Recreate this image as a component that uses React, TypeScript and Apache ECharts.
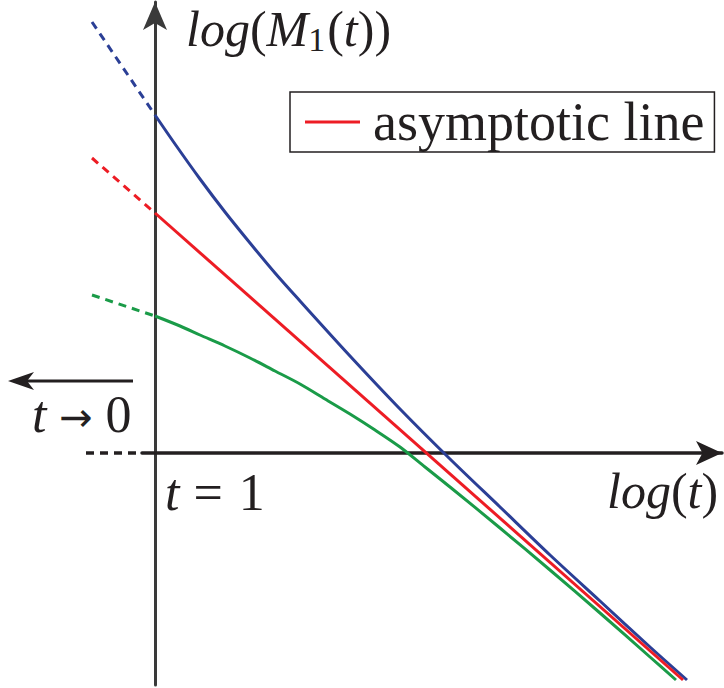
import React, { useEffect, useRef } from "react";
import * as echarts from "echarts";

// x = log(t), y = log(M1(t)) in schematic units (axes cross at t = 1)
const blueX = [0, 0.2, 0.45, 0.7, 0.95, 1.2, 1.45, 1.95, 2.45, 2.95, 3.45, 3.95, 4.45, 4.95, 5.32];
const blueY = [3.38, 3.09, 2.74, 2.41, 2.10, 1.80, 1.52, 0.97, 0.44, -0.06, -0.54, -1.02, -1.48, -1.94, -2.27];
const redX = [0, 5.28];
const redY = [2.40, -2.27];
const greenX = [0, 0.25, 0.45, 0.7, 0.95, 1.2, 1.45, 1.7, 1.95, 2.2, 2.45, 2.7, 2.95, 3.45, 3.95, 4.45, 4.95, 5.21];
const greenY = [1.37, 1.27, 1.18, 1.07, 0.95, 0.82, 0.69, 0.54, 0.39, 0.23, 0.06, -0.14, -0.34, -0.75, -1.17, -1.60, -2.04, -2.27];
// dashed extensions towards t -> 0
const extX = [-0.63, 0];
const blueExtY = [4.31, 3.38];
const redExtY = [2.95, 2.40];
const greenExtY = [1.58, 1.37];
const axisExtX = [-0.69, -0.13];
const axisExtY = [0, 0];

const legendName = "asymptotic line";

const zip = (xs: number[], ys: number[]) => xs.map((x, i) => [x, ys[i]]);

const BLUE = "#2b3f96";
const RED = "#ed1c24";
const GREEN = "#1a9b48";
const INK = "#231f20";
const SERIF = "'Liberation Serif', 'Times New Roman', serif";

const hidden = {
  axisLine: { show: false },
  axisTick: { show: false },
  axisLabel: { show: false },
  splitLine: { show: false },
};

export default function App() {
  const ref = useRef<HTMLDivElement>(null);
  useEffect(() => {
    if (!ref.current) return;
    const chart = echarts.init(ref.current, undefined, { renderer: "svg" });
    const it = { fontFamily: SERIF, fontStyle: "italic", fontSize: 52, lineHeight: 40, fill: INK };
    const up = { fontFamily: SERIF, fontStyle: "normal", fontSize: 52, lineHeight: 40, fill: INK };
    const tIt = { ...it, fontSize: 50, lineHeight: 50 };
    const tUp = { ...up, fontSize: 50, lineHeight: 50 };
    const lineSeries = (name: string, xs: number[], ys: number[], color: string, dashed: boolean, smooth = 0, width = 3) => ({
      name,
      type: "line",
      xAxisIndex: 1,
      yAxisIndex: 1,
      data: zip(xs, ys),
      smooth,
      symbol: "none",
      clip: false,
      color,
      lineStyle: { color, width, type: dashed ? [8, 6] : "solid" },
      z: 3,
    });
    chart.setOption({
      animation: false,
      backgroundColor: "#ffffff",
      grid: [
        { left: 142, right: 2, top: 2, bottom: 3 },
        { left: 86, right: 2, top: 2, bottom: 3 },
      ],
      xAxis: [
        {
          type: "value",
          gridIndex: 0,
          min: -0.13,
          max: 5.67,
          axisLine: {
            onZero: true,
            lineStyle: { color: INK, width: 3.5 },
            symbol: ["none", "arrow"],
            symbolSize: [18, 26],
          },
          axisTick: { show: false },
          axisLabel: { show: false },
          splitLine: { show: false },
        },
        { type: "value", gridIndex: 1, min: -0.69, max: 5.67, ...hidden },
      ],
      yAxis: [
        {
          type: "value",
          gridIndex: 0,
          min: -2.32,
          max: 4.51,
          axisLine: {
            onZero: true,
            lineStyle: { color: "#3a3a3a", width: 3 },
            symbol: ["none", "arrow"],
            symbolSize: [18, 28],
          },
          axisTick: { show: false },
          axisLabel: { show: false },
          splitLine: { show: false },
        },
        { type: "value", gridIndex: 1, min: -2.32, max: 4.51, ...hidden },
      ],
      legend: {
        data: [legendName],
        left: 290,
        top: 92,
        padding: [3, 10, 3, 15],
        borderColor: INK,
        borderWidth: 1.5,
        icon: "rect",
        itemWidth: 55,
        itemHeight: 3,
        selectedMode: false,
        textStyle: {
          fontFamily: SERIF,
          fontSize: 54,
          lineHeight: 50,
          color: INK,
          padding: [0, 0, 0, 8],
        },
      },
      series: [
        lineSeries("blue", blueX, blueY, BLUE, false, 0.3),
        lineSeries("blue extension", extX, blueExtY, BLUE, true),
        lineSeries(legendName, redX, redY, RED, false),
        lineSeries("red extension", extX, redExtY, RED, true),
        lineSeries("green", greenX, greenY, GREEN, false, 0.3),
        lineSeries("green extension", extX, greenExtY, GREEN, true),
        lineSeries("axis extension", axisExtX, axisExtY, INK, true, 0, 3.5),
      ],
      graphic: [
        {
          type: "text",
          left: 186,
          top: 2,
          style: {
            text: "{i|log}{u|(}{i|M}{s|1}{u|(}{i|t}{u|))}",
            fill: INK,
            rich: {
              i: tIt,
              u: tUp,
              s: { fontFamily: SERIF, fontStyle: "normal", fontSize: 34, lineHeight: 30, fill: INK, padding: [20, 2, 0, 0] },
            },
          },
        },
        {
          type: "text",
          left: 607,
          top: 466,
          style: {
            text: "{i|log}{u|(}{i|t}{u|)}",
            fill: INK,
            rich: { i: { ...it, fontSize: 50 }, u: { ...up, fontSize: 50 } },
          },
        },
        {
          type: "text",
          left: 165,
          top: 466,
          style: {
            text: "{i|t}{e|=}{u|1}",
            fill: INK,
            rich: { i: it, u: up, e: { ...up, padding: [0, 16, 0, 14] } },
          },
        },
        {
          type: "text",
          left: 32,
          top: 388,
          style: {
            text: "{i|t}{a| → }{u|0}",
            fill: INK,
            rich: {
              i: it,
              u: up,
              a: { fontFamily: "'DejaVu Sans', sans-serif", fontSize: 40, lineHeight: 40, fill: INK, padding: [6, 0, 0, 0] },
            },
          },
        },
        {
          type: "line",
          shape: { x1: 133, y1: 381, x2: 22, y2: 381 },
          style: { stroke: INK, lineWidth: 3 },
        },
        {
          type: "polygon",
          shape: { points: [[8, 381], [34, 372], [27, 381], [34, 390]] },
          style: { fill: INK },
        },
      ],
    });
    return () => chart.dispose();
  }, []);
  return (
    <div
      ref={ref}
      style={{ position: "fixed", left: 0, top: 0, width: 724, height: 688, background: "#fff" }}
    />
  );
}
